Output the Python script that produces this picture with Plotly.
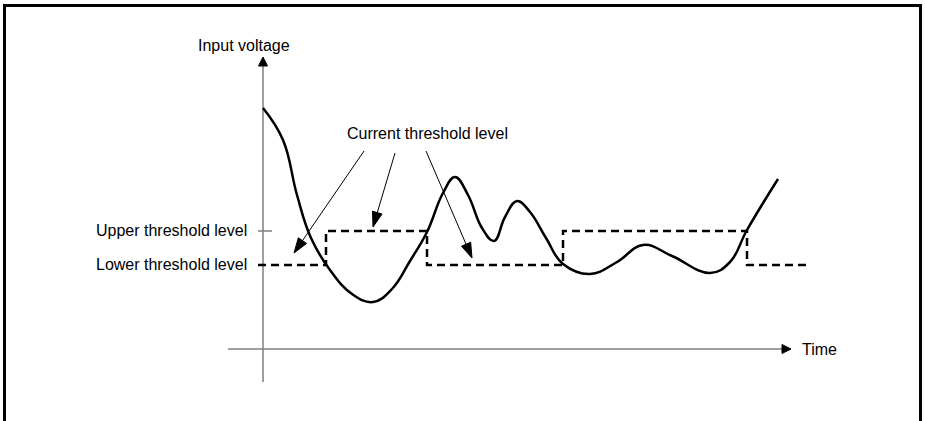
import numpy as np
import plotly.graph_objects as go

# --- data (time units on x, voltage units on y) ---
curve_t = [0.0, 2.0, 3.4, 4.8, 6.7, 8.9, 11.0, 12.9, 14.7, 16.4, 18.0, 19.2, 20.5,
           21.9, 23.1, 24.2, 25.4, 26.7, 28.3, 30.0, 32.7, 35.4, 38.0, 40.9,
           44.7, 46.7, 48.4, 51.5]
curve_v = [24.1, 20.9, 15.4, 11.1, 7.9, 5.5, 4.7, 6.0, 8.8, 11.7, 15.6, 17.2, 15.4,
           12.1, 10.8, 13.2, 14.8, 13.7, 11.1, 8.5, 7.5, 8.7, 10.4, 9.3,
           7.6, 8.7, 11.9, 17.0]

upper_level = 11.8
lower_level = 8.4
switch_t = [-0.5, 6.3, 16.4, 30.0, 48.4, 54.5]
switch_state = ['low', 'high', 'low', 'high', 'low', 'low']

# "Current threshold level" pointers: tail -> head
pointer_tail_t = [10.1, 13.2, 16.3]
pointer_tail_v = [19.8, 19.6, 19.8]
pointer_head_t = [3.1, 11.0, 20.9]
pointer_head_v = [9.6, 12.2, 9.1]

# axes extents
y_axis_bottom, y_axis_top = -3.3, 29.2
x_axis_left, x_axis_right = -3.5, 52.8

FONT = dict(family='Liberation Sans, Arial, sans-serif', size=16, color='black')
GRAY = '#7f7f7f'


def head(tip_t, tip_v, from_t, from_v, length, half):
    """triangle polygon for an arrow head + base point of the shaft"""
    d = np.array([tip_t - from_t, tip_v - from_v], dtype=float)
    u = d / np.linalg.norm(d)
    n = np.array([-u[1], u[0]])
    tip = np.array([tip_t, tip_v])
    base = tip - length * u
    p1, p2 = base + half * n, base - half * n
    return [p1[0], tip[0], p2[0], p1[0]], [p1[1], tip[1], p2[1], p1[1]], base


fig = go.Figure()

# --- axes ---
hx, hy, base = head(0, y_axis_top, 0, y_axis_bottom, 0.9, 0.45)
fig.add_trace(go.Scatter(x=[0, 0], y=[y_axis_bottom, base[1]], mode='lines',
                         line=dict(color=GRAY, width=1.5), hoverinfo='skip'))
fig.add_trace(go.Scatter(x=hx, y=hy, fill='toself', fillcolor='black', mode='lines',
                         line=dict(color='black', width=1), hoverinfo='skip'))

hx, hy, base = head(x_axis_right, 0, x_axis_left, 0, 0.9, 0.45)
fig.add_trace(go.Scatter(x=[x_axis_left, base[0]], y=[0, 0], mode='lines',
                         line=dict(color=GRAY, width=1.5), hoverinfo='skip'))
fig.add_trace(go.Scatter(x=hx, y=hy, fill='toself', fillcolor='black', mode='lines',
                         line=dict(color='black', width=1), hoverinfo='skip'))

# upper threshold tick
fig.add_trace(go.Scatter(x=[-0.5, 0.9], y=[upper_level, upper_level], mode='lines',
                         line=dict(color=GRAY, width=1.5), hoverinfo='skip'))

# --- threshold (dashed step) ---
thr_v = [upper_level if s == 'high' else lower_level for s in switch_state]
fig.add_trace(go.Scatter(x=switch_t, y=thr_v, mode='lines', line_shape='hv',
                         line=dict(color='black', width=2.5, dash='8px,5px'),
                         hoverinfo='skip'))

# --- input voltage ---
fig.add_trace(go.Scatter(x=curve_t, y=curve_v, mode='lines', line_shape='spline',
                         line=dict(color='black', width=2.5, smoothing=1.2),
                         hoverinfo='skip'))

# --- pointers ---
for t0, v0, t1, v1 in zip(pointer_tail_t, pointer_tail_v, pointer_head_t, pointer_head_v):
    hx, hy, base = head(t1, v1, t0, v0, 1.5, 0.5)
    fig.add_trace(go.Scatter(x=[t0, base[0]], y=[v0, base[1]], mode='lines',
                             line=dict(color='black', width=1), hoverinfo='skip'))
    fig.add_trace(go.Scatter(x=hx, y=hy, fill='toself', fillcolor='black', mode='lines',
                             line=dict(color='black', width=1), hoverinfo='skip'))

# --- labels ---
labels = [
    dict(x=-1.9, y=30.4, text='Input voltage', xanchor='center'),
    dict(x=-1.4, y=upper_level + 0.1, text='Upper threshold level', xanchor='right'),
    dict(x=-1.4, y=lower_level + 0.1, text='Lower threshold level', xanchor='right'),
    dict(x=53.7, y=0, text='Time', xanchor='left'),
    dict(x=16.4, y=21.6, text='Current threshold level', xanchor='center'),
]
for a in labels:
    fig.add_annotation(showarrow=False, yanchor='middle', font=FONT, **a)

# frame
fig.add_shape(type='rect', xref='paper', yref='paper',
              x0=4.5 / 925, x1=920.5 / 925, y0=-0.1, y1=1 - 5.5 / 421,
              line=dict(color='black', width=3))

fig.update_layout(
    width=925, height=421,
    margin=dict(l=0, r=0, t=0, b=0),
    paper_bgcolor='white', plot_bgcolor='white',
    showlegend=False,
    xaxis=dict(range=[-26.3, 66.2], visible=False),
    yaxis=dict(range=[-7.2, 34.9], visible=False),
)

# page body has a default margin; drop it so the figure sits at (0, 0)
fig.write_html("out.html", config={'displayModeBar': False},
               post_script="document.body.style.margin='0';")
